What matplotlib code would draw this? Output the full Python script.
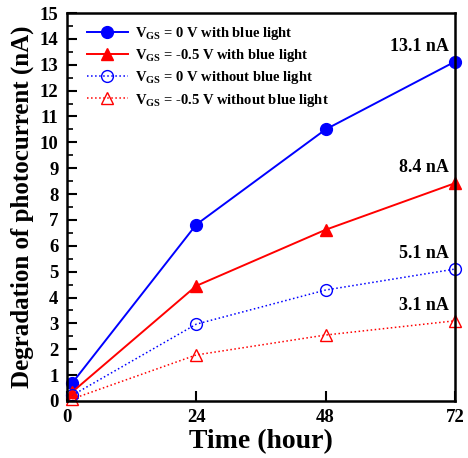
import matplotlib
matplotlib.use("Agg")
import matplotlib.pyplot as plt
from matplotlib.ticker import MultipleLocator

plt.rcParams["font.family"] = "Liberation Serif"
plt.rcParams["font.weight"] = "bold"
plt.rcParams["mathtext.fontset"] = "custom"
plt.rcParams["mathtext.rm"] = "Liberation Serif:bold"
plt.rcParams["mathtext.bf"] = "Liberation Serif:bold"
plt.rcParams["mathtext.it"] = "Liberation Serif:bold"

time_h = [1, 24, 48, 72]
vgs0_light = [0.7, 6.82, 10.5, 13.12]
vgs05_light = [0.35, 4.45, 6.62, 8.42]
vgs0_dark = [0.22, 2.97, 4.29, 5.1]
vgs05_dark = [0.08, 1.78, 2.55, 3.1]
end_labels = ["13.1 nA", "8.4 nA", "5.1 nA", "3.1 nA"]

fig = plt.figure(figsize=(4.68, 4.58), dpi=100)
ax = fig.add_axes([0.143, 0.1245, 0.829, 0.847])

ax.plot(time_h, vgs0_light, color="blue", marker="o", ms=8.5, lw=1.4, clip_on=False,
        label=r"V$_{\mathrm{GS}}$ = 0 V with blue light")
ax.plot(time_h, vgs05_light, color="red", marker="^", ms=8.5, lw=1.4, clip_on=False,
        label=r"V$_{\mathrm{GS}}$ = -0.5 V with blue light")
ax.plot(time_h, vgs0_dark, color="blue", marker="o", ms=8.5, lw=1.1, ls=":",
        mfc="none", clip_on=False, label=r"V$_{\mathrm{GS}}$ = 0 V without blue light")
ax.plot(time_h, vgs05_dark, color="red", marker="^", ms=8.5, lw=1.1, ls=":",
        mfc="none", clip_on=False, label=r"V$_{\mathrm{GS}}$ = -0.5 V without blue light")

for series, lab in zip([vgs0_light, vgs05_light, vgs0_dark, vgs05_dark], end_labels):
    ax.annotate(lab, (time_h[-1], series[-1]), xytext=(-4, 5),
                textcoords="offset points", ha="right", va="bottom",
                fontsize=13, fontweight="bold")

ax.set_xlim(0, 72)
ax.set_ylim(0, 15)
ax.set_xticks([0, 24, 48, 72])
ax.yaxis.set_major_locator(MultipleLocator(1))
ax.yaxis.set_minor_locator(MultipleLocator(0.5))
ax.tick_params(axis="both", which="major", direction="in", length=7, width=1.5,
               labelsize=13.5, pad=6)
ax.tick_params(axis="y", which="minor", direction="in", length=4, width=1.2)
for lbl in ax.get_xticklabels() + ax.get_yticklabels():
    lbl.set_fontweight("bold")
for sp in ax.spines.values():
    sp.set_linewidth(1.8)

ax.set_xlabel("Time (hour)", fontsize=20, fontweight="bold", labelpad=2)
ax.set_ylabel("Degradation of photocurrent (nA)", fontsize=18, fontweight="bold", labelpad=4)

ax.legend(loc="upper left", bbox_to_anchor=(0.025, 0.995), frameon=False,
          handlelength=2.8, handletextpad=0.5, borderaxespad=0.3,
          labelspacing=0.35, prop={"weight": "bold", "size": 10.5})

fig.savefig("out.png", dpi=100)
